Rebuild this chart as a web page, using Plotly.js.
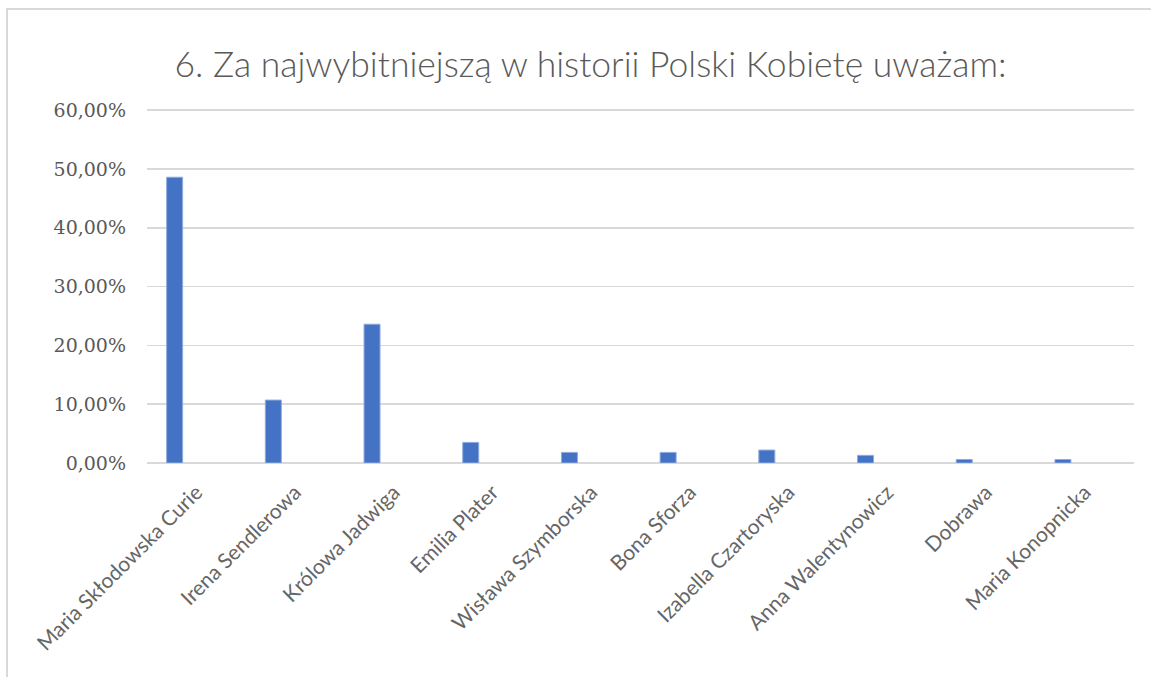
<!DOCTYPE html>
<html>
<head>
<meta charset="utf-8">
<script src="https://cdn.plot.ly/plotly-3.0.1.min.js"></script>
<style>
html,body{margin:0;padding:0;background:#fff;}
#chart{width:1151px;height:677px;}
</style>
</head>
<body>
<div id="chart"></div>
<script>
const categories = ["Maria Skłodowska Curie","Irena Sendlerowa","Królowa Jadwiga","Emilia Plater","Wisława Szymborska","Bona Sforza","Izabella Czartoryska","Anna Walentynowicz","Dobrawa","Maria Konopnicka"];
const values = [48.6, 10.7, 23.6, 3.5, 1.8, 1.8, 2.2, 1.3, 0.6, 0.6];
const yTickVals = [0,10,20,30,40,50,60];
const yTickText = ["0,00%","10,00%","20,00%","30,00%","40,00%","50,00%","60,00%"];
const titleText = "6. Za najwybitniejszą w historii Polski Kobietę uważam:";

const trace = {
  type: "bar",
  x: categories,
  y: values,
  width: 0.162,
  offset: -0.301,
  marker: {color: "#4472C4", line: {color: "#8FAADC", width: 1}},
  hoverinfo: "x+y"
};

const layout = {
  width: 1151, height: 677,
  margin: {l: 147, r: 17, t: 109, b: 214, pad: 0},
  paper_bgcolor: "#ffffff", plot_bgcolor: "#ffffff",
  showlegend: false,
  bargap: 0,
  title: {
    text: titleText,
    font: {family: "Lato, Carlito, sans-serif", size: 35.5, weight: 300, color: "#595959"},
    x: 0.513, xanchor: "center", y: 0.905, yanchor: "middle"
  },
  xaxis: {
    type: "category",
    tickangle: -45,
    showgrid: false, zeroline: false, showline: false,
    ticks: "", ticklabelstandoff: 12,
    tickfont: {family: "Lato, Carlito, sans-serif", size: 21, color: "#666666"},
    fixedrange: true
  },
  yaxis: {
    range: [0, 60.2],
    tickvals: yTickVals, ticktext: yTickText,
    showgrid: true, gridcolor: "#d9d9d9", gridwidth: 1.5,
    zeroline: true, zerolinecolor: "#d9d9d9", zerolinewidth: 1.5,
    showline: false, ticks: "", ticklabelstandoff: 20,
    tickfont: {family: "DejaVu Serif, serif", size: 19, color: "#595959"},
    fixedrange: true
  },
  shapes: [
    {type: "line", xref: "paper", yref: "paper",
     x0: (6-147)/987, x1: (1151-147)/987, y0: (677-214-9)/354, y1: (677-214-9)/354,
     line: {color: "#d9d9d9", width: 2}},
    {type: "line", xref: "paper", yref: "paper",
     x0: (7-147)/987, x1: (7-147)/987, y0: (677-214-9)/354, y1: (677-214-677)/354,
     line: {color: "#d9d9d9", width: 2}}
  ]
};

Plotly.newPlot("chart", [trace], layout, {displayModeBar: false, staticPlot: true});
</script>
</body>
</html>
